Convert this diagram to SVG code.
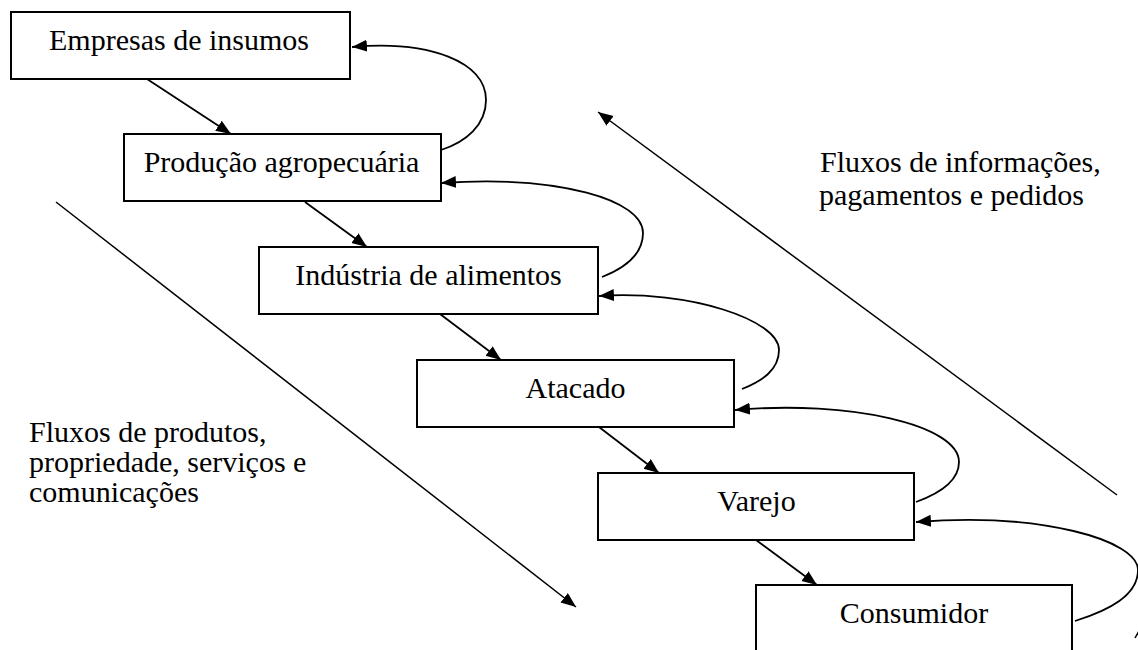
<svg xmlns="http://www.w3.org/2000/svg" width="1138" height="650" viewBox="0 0 1138 650">
<defs>
<style>
.box{fill:#fff;stroke:#000;stroke-width:2}
text{font-family:"Liberation Serif";font-size:30px;fill:#000}
.lbl{text-anchor:middle}
.con{fill:none;stroke:#000;stroke-width:1.8;marker-end:url(#ah)}
.long{fill:none;stroke:#000;stroke-width:1.5;marker-end:url(#ah)}
</style>
<marker id="ah" markerUnits="userSpaceOnUse" markerWidth="16" markerHeight="13" refX="15" refY="6" orient="auto">
<path d="M0,0 L15,6 L0,12 z" fill="#000"/>
</marker>
</defs>
<rect width="1138" height="650" fill="#fff"/>
<g id="connectors">
<line class="con" x1="147" y1="79" x2="231" y2="134"/>
<line class="con" x1="305" y1="202" x2="367" y2="247"/>
<line class="con" x1="440" y1="314" x2="501" y2="360"/>
<line class="con" x1="599" y1="427" x2="659" y2="473"/>
<line class="con" x1="756" y1="540" x2="817" y2="585"/>
<path class="con" d="M441,150 C466,142 486,125 486,100 C486,62 430,40 352,47"/>
<path class="con" d="M602,277 C625,268 643,255 643,233 C643,200 560,175 441,183"/>
<path class="con" d="M742,389 C762,381 779,370 779,350 C779,320 690,290 599,296"/>
<path class="con" d="M916,502 C938,494 959,482 959,462 C959,425 850,400 735,410"/>
<path class="con" d="M1075,621 C1110,610 1138,595 1138,570 C1138,540 1040,512 916,522"/>
<line class="long" x1="56" y1="202" x2="576" y2="607"/>
<line class="long" x1="1117" y1="495" x2="598" y2="112"/>
<line x1="1139" y1="631" x2="1135" y2="638" stroke="#000" stroke-width="1.5"/>
</g>
<g id="n1"><rect class="box" x="11" y="12" width="339" height="67"/><text class="lbl" x="179" y="50">Empresas de insumos</text></g>
<g id="n2"><rect class="box" x="124" y="134" width="317" height="67"/><text class="lbl" x="281.5" y="172">Produção agropecuária</text></g>
<g id="n3"><rect class="box" x="259" y="247" width="339" height="67"/><text class="lbl" x="428.5" y="285">Indústria de alimentos</text></g>
<g id="n4"><rect class="box" x="417" y="360" width="317" height="67"/><text class="lbl" x="575.5" y="398">Atacado</text></g>
<g id="n5"><rect class="box" x="598" y="473" width="316" height="67"/><text class="lbl" x="756.5" y="511">Varejo</text></g>
<g id="n6"><rect class="box" x="756" y="585" width="316" height="80"/><text class="lbl" x="914" y="623">Consumidor</text></g>
<g id="label-info">
<text x="820" y="172">Fluxos de informações,</text>
<text x="819" y="205">pagamentos e pedidos</text>
</g>
<g id="label-produtos">
<text x="29" y="442">Fluxos de produtos,</text>
<text x="29" y="472">propriedade, serviços e</text>
<text x="29" y="502">comunicações</text>
</g>
</svg>
